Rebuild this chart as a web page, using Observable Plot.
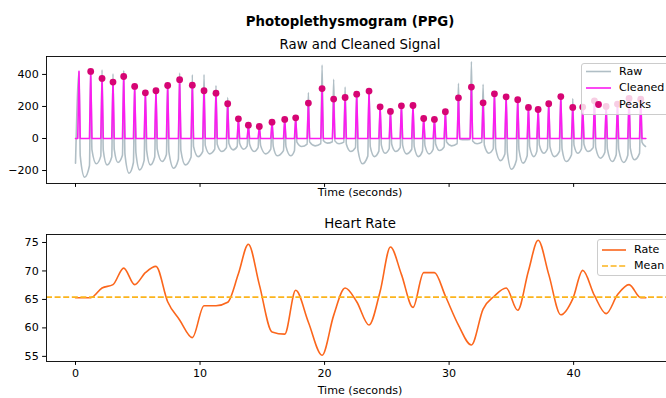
<!DOCTYPE html>
<html>
<head>
<meta charset="utf-8">
<script src="https://cdn.jsdelivr.net/npm/d3@7"></script>
<script src="https://cdn.jsdelivr.net/npm/@observablehq/plot@0.6"></script>
<style>
  html, body { margin: 0; padding: 0; background: white; }
  #fig { position: relative; width: 666px; height: 398px; overflow: hidden; background: white; font-family: "DejaVu Sans", sans-serif; color: black; }
  #fig > svg { max-width: none !important; }
  .abs { position: absolute; white-space: nowrap; line-height: 1; }
  .c { transform: translate(-50%, -50%); }
  .legend { position: absolute; background: rgba(255,255,255,0.8); border: 1px solid #cccccc; border-radius: 3px; box-sizing: border-box; }
  .legend .lab { position: absolute; font-size: 11.1px; line-height: 1; transform: translateY(-50%); white-space: nowrap; }
  .legend svg { position: absolute; left: 0; top: 0; overflow: visible; }
</style>
</head>
<body>
<div id="fig"></div>
<script>
// ---------------- data ----------------
// Times (s) of the systolic peaks
const peakTimes = [0.28, 1.22, 2.13, 3.01, 3.87, 4.75, 5.61, 6.46, 7.40, 8.36,
  9.38, 10.32, 11.28, 12.22, 13.08, 13.88, 14.76, 15.78, 16.80, 17.68,
  18.70, 19.80, 20.73, 21.65, 22.58, 23.57, 24.46, 25.29, 26.17, 27.10,
  27.96, 28.82, 29.70, 30.75, 31.79, 32.73, 33.64, 34.58, 35.51, 36.37,
  37.15, 38.00, 38.97, 39.93, 40.73, 41.67, 42.61, 43.52, 44.45, 45.39];
// Cleaned signal amplitude at each peak
const peakValues = [419, 419, 375, 352, 387, 325, 285, 298, 331, 367,
  333, 298, 283, 217, 123, 83, 75, 102, 119, 129,
  221, 312, 246, 256, 277, 296, 198, 169, 204, 206,
  125, 119, 167, 254, 321, 223, 279, 260, 242, 194,
  181, 217, 262, 194, 196, 235, 200, 215, 250, 245];
// Which peaks carry a detected-peak marker (the first spike has none)
const peakMarked = peakTimes.map((t, i) => i > 0);
// Start / end of the recording (s)
const signalSpan = [0, 45.8];

// Raw signal: height of each systolic peak
const rawPeakValues = [415, 425, 429, 404, 425, 332, 290, 303, 340, 408,
  397, 400, 330, 255, 127, 88, 80, 107, 124, 134,
  287, 458, 370, 321, 285, 300, 203, 174, 209, 211,
  130, 124, 172, 344, 480, 338, 285, 265, 250, 200,
  185, 222, 265, 250, 210, 240, 205, 220, 255, 250];
// Raw signal: level at the foot of each upstroke (first beat has none)
const rawFootValues = [null, -170, -110, -115, -105, -150, -137, -115, -100, -130,
  -115, -80, -67, -57, -50, -47, -57, -67, -76, -76,
  -35, -32, -20, -23, -57, -110, -79, -64, -57, -67,
  -79, -67, -52, -32, -6, -23, -64, -97, -134, -108,
  -79, -64, -79, -101, -64, -57, -86, -101, -105, -93];
// Raw signal: level just after each peak (fast systolic drop)
const rawDropValues = [-109, -71, -74, -68, -98, -88, -74, -65, -84, -74,
  -51, -43, -36, -32, -30, -36, -43, -49, -49, -23,
  -21, -13, -15, -36, -71, -51, -41, -36, -43, -51,
  -43, -34, -21, -4, -15, -41, -62, -86, -69, -51,
  -41, -51, -65, -41, -36, -55, -65, -68, -60, -23];
// Raw signal: diastolic troughs (time, level), incl. start and end of record
const troughTimes = [0.00, 0.73, 1.67, 2.53, 3.41, 4.30, 5.15, 6.01, 6.95, 7.88,
  8.82, 9.84, 10.77, 11.74, 12.65, 13.50, 14.34, 15.27, 16.20, 17.28,
  18.16, 19.24, 20.22, 21.16, 22.10, 23.04, 24.00, 24.86, 25.71, 26.57,
  27.53, 28.39, 29.24, 30.20, 31.30, 32.25, 33.18, 34.12, 35.00, 35.94,
  36.80, 37.60, 38.45, 39.39, 40.33, 41.15, 42.15, 43.09, 44.02, 44.88, 45.77];
const troughValues = [-154, -242, -158, -165, -150, -217, -196, -165, -144, -186,
  -165, -113, -96, -81, -71, -67, -81, -96, -108, -108,
  -50, -46, -29, -33, -81, -158, -113, -92, -81, -96,
  -113, -96, -75, -46, -8, -33, -92, -138, -192, -154,
  -113, -92, -113, -144, -92, -81, -123, -144, -150, -133, -50];

// Heart rate (bpm)
const rateTimes = [0, 0.28, 1.22, 2.13, 3.01, 3.87, 4.75, 5.61, 6.46, 7.40,
  8.36, 9.38, 10.32, 11.28, 12.22, 13.08, 13.88, 14.76, 15.78, 16.80,
  17.68, 18.70, 19.80, 20.73, 21.65, 22.58, 23.57, 24.46, 25.29, 26.17,
  27.10, 27.96, 28.82, 29.70, 30.75, 31.79, 32.73, 33.64, 34.58, 35.51,
  36.37, 37.15, 38.00, 38.97, 39.93, 40.73, 41.67, 42.61, 43.52, 44.45, 45.39, 45.80];
const rateValues = [65.3, 65.3, 65.3, 67.0, 67.6, 70.5, 67.6, 69.7, 70.8, 64.6,
  61.4, 58.3, 63.9, 63.9, 64.5, 69.5, 74.7, 67.6, 59.3, 58.9,
  66.6, 61.0, 55.2, 62.2, 67.0, 64.6, 60.5, 66.4, 74.2, 69.4,
  63.6, 69.7, 69.7, 65.6, 60.5, 57.0, 63.3, 65.6, 67.0, 63.1,
  70.0, 75.4, 69.4, 62.3, 65.1, 70.1, 65.7, 62.5, 65.8, 67.6, 65.3, 65.3];
const meanRate = 65.4;

// Tick labels
const timeTicks = [0, 10, 20, 30, 40];
const ppgTicks = [-200, 0, 200, 400];
const rateTicks = [55, 60, 65, 70, 75];

// ---------------- build tables ----------------
const spikeHalf = 0.1;   // half-width of a systolic spike (s)
const rawRows = [{t: troughTimes[0], v: troughValues[0]}];
peakTimes.forEach((t, i) => {
  if (rawFootValues[i] !== null) rawRows.push({t: t - spikeHalf, v: rawFootValues[i]});
  rawRows.push({t, v: rawPeakValues[i]});
  rawRows.push({t: t + spikeHalf, v: rawDropValues[i]});
  rawRows.push({t: troughTimes[i + 1], v: troughValues[i + 1]});
});
const peakRows = peakTimes.map((t, i) => ({t, v: peakValues[i], marked: peakMarked[i]}));
const cleanedRows = [{t: signalSpan[0], v: 0}];
peakRows.forEach(p => { cleanedRows.push({t: p.t - spikeHalf, v: 0}, {t: p.t, v: p.v}, {t: p.t + spikeHalf, v: 0}); });
cleanedRows.push({t: signalSpan[1], v: 0});
const rateRows = rateTimes.map((t, i) => ({t, v: rateValues[i]}));

const minus = d => d < 0 ? "\u2212" + Math.abs(d) : String(d);
const plotStyle = {fontFamily: "DejaVu Sans, sans-serif", fontSize: "11.1px", color: "black", background: "transparent", overflow: "visible", maxWidth: "none"};
const xScale = {domain: [-2.33, 48.1], ticks: timeTicks, tickSize: 3.9, tickPadding: 3.9, label: null};

const ppgPlot = Plot.plot({
  width: 700, height: 200, marginLeft: 46, marginRight: 26, marginTop: 56, marginBottom: 17,
  style: plotStyle,
  x: {...xScale, tickFormat: () => ""},
  y: {domain: [-281, 512], ticks: ppgTicks, tickSize: 3.9, tickPadding: 3.9, tickFormat: minus, label: null},
  marks: [
    Plot.line(rawRows, {x: "t", y: "v", stroke: "#B0BEC5", strokeWidth: 1.6, curve: "monotone-x"}),
    Plot.line(cleanedRows, {x: "t", y: "v", stroke: "#FB1CF0", strokeWidth: 1.6}),
    Plot.dot(peakRows.filter(p => p.marked), {x: "t", y: "v", r: 3.4, fill: "#D60574", stroke: "none"}),
    Plot.frame({stroke: "black", strokeWidth: 0.9})
  ]
});

const ratePlot = Plot.plot({
  width: 700, height: 198, marginLeft: 46, marginRight: 26, marginTop: 34, marginBottom: 37,
  style: plotStyle,
  x: {...xScale},
  y: {domain: [54.1, 76.4], ticks: rateTicks, tickSize: 3.9, tickPadding: 3.9, label: null},
  marks: [
    Plot.line(rateRows, {x: "t", y: "v", stroke: "#FB661C", strokeWidth: 1.6, curve: "monotone-x"}),
    Plot.ruleY([meanRate], {stroke: "#FBB41C", strokeWidth: 1.6, strokeDasharray: "6,2.6"}),
    Plot.frame({stroke: "black", strokeWidth: 0.9})
  ]
});

const fig = document.getElementById("fig");
function place(el, left, topPx) {
  el.style.position = "absolute"; el.style.left = left + "px"; el.style.top = topPx + "px";
  el.style.maxWidth = "none"; el.style.width = el.getAttribute("width") + "px"; el.style.height = el.getAttribute("height") + "px";
  fig.appendChild(el);
}
place(ppgPlot, 0, 0);
place(ratePlot, 0, 200);

function addText(str, x, y, size, bold) {
  const d = document.createElement("div");
  d.className = "abs c";
  d.textContent = str;
  d.style.left = x + "px"; d.style.top = y + "px";
  d.style.fontSize = size + "px";
  if (bold) d.style.fontWeight = "bold";
  fig.appendChild(d);
}
addText("Photoplethysmogram (PPG)", 350, 21.5, 13.3, true);
addText("Raw and Cleaned Signal", 360, 44.5, 13.3);
addText("Time (seconds)", 360, 193, 11.1);
addText("Heart Rate", 360, 223.5, 13.3);
addText("Time (seconds)", 360, 390.5, 11.1);

function addLegend(left, topPx, width, height, items) {
  const box = document.createElement("div");
  box.className = "legend";
  Object.assign(box.style, {left: left + "px", top: topPx + "px", width: width + "px", height: height + "px"});
  const ns = "http://www.w3.org/2000/svg";
  const svg = document.createElementNS(ns, "svg");
  svg.setAttribute("width", width); svg.setAttribute("height", height);
  items.forEach(it => {
    if (it.kind === "dot") {
      const c = document.createElementNS(ns, "circle");
      c.setAttribute("cx", (it.x0 + it.x1) / 2); c.setAttribute("cy", it.y); c.setAttribute("r", 3.4);
      c.setAttribute("fill", it.color);
      svg.appendChild(c);
    } else {
      const l = document.createElementNS(ns, "line");
      l.setAttribute("x1", it.x0); l.setAttribute("x2", it.x1); l.setAttribute("y1", it.y); l.setAttribute("y2", it.y);
      l.setAttribute("stroke", it.color); l.setAttribute("stroke-width", 1.6);
      if (it.dash) l.setAttribute("stroke-dasharray", it.dash);
      svg.appendChild(l);
    }
    const lab = document.createElement("div");
    lab.className = "lab"; lab.textContent = it.label;
    lab.style.left = it.tx + "px"; lab.style.top = it.y + "px";
    box.appendChild(lab);
  });
  box.appendChild(svg);
  fig.appendChild(box);
}
addLegend(581, 63, 92, 52, [
  {label: "Raw", color: "#B0BEC5", x0: 4, x1: 29, y: 7.5, tx: 37},
  {label: "Cleaned", color: "#FB1CF0", x0: 4, x1: 29, y: 24, tx: 37},
  {label: "Peaks", color: "#D60574", kind: "dot", x0: 4, x1: 29, y: 40.5, tx: 37}
]);
addLegend(597, 239, 80, 37, [
  {label: "Rate", color: "#FB661C", x0: 4, x1: 28, y: 10, tx: 36},
  {label: "Mean", color: "#FBB41C", dash: "6,2.6", x0: 4, x1: 28, y: 26, tx: 36}
]);
</script>
</body>
</html>
